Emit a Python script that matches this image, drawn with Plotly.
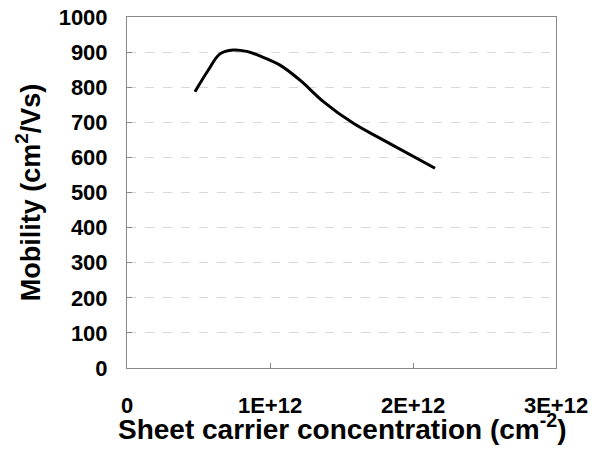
import plotly.graph_objects as go

conc = [0.475e12, 0.569e12, 0.65e12, 0.743e12, 0.837e12, 0.93e12, 1.07e12, 1.21e12,
        1.373e12, 1.583e12, 1.79e12, 2.154e12]
mobility = [787, 849, 895, 906, 902, 889, 863, 820, 759, 697, 650, 569]

x_tickvals = [0, 1e12, 2e12, 3e12]
x_ticktext = ["0", "1E+12", "2E+12", "3E+12"]
y_tickvals = list(range(0, 1001, 100))

fig = go.Figure()
fig.add_trace(go.Scatter(x=conc, y=mobility, mode="lines",
                         line=dict(color="black", width=3, shape="spline", smoothing=1.0),
                         showlegend=False, hoverinfo="skip"))

font = "Liberation Sans, Arial, sans-serif"
fig.update_layout(
    width=603, height=454,
    margin=dict(l=127, r=47, t=17, b=86),
    plot_bgcolor="white", paper_bgcolor="white",
    font=dict(family=font, color="black"),
    annotations=[dict(
        text="<b>Sheet carrier concentration (cm<sup>-2</sup>)</b>",
        xref="paper", yref="paper", x=0.5, y=0, xanchor="center", yanchor="middle",
        yshift=-59, showarrow=False, font=dict(size=28, family=font, color="black"),
    )],
)
fig.update_xaxes(
    range=[0, 3e12], tickvals=x_tickvals, ticktext=x_ticktext,
    ticks="inside", ticklen=5, tickcolor="#888",
    showline=True, linecolor="#888", linewidth=1, mirror=True,
    showgrid=False, zeroline=False, automargin=False,
    tickfont=dict(size=22, family=font, color="black", weight="bold"),
    ticklabelstandoff=18,
)
fig.update_yaxes(
    range=[0, 1000], tickvals=y_tickvals,
    ticks="inside", ticklen=5, tickcolor="#888",
    showline=True, linecolor="#888", linewidth=1, mirror=True,
    showgrid=True, gridcolor="#d8d8d8", griddash="dash", zeroline=False,
    automargin=False,
    tickfont=dict(size=22, family=font, color="black", weight="bold"),
    ticklabelstandoff=14,
    title=dict(text="<b>Mobility (cm<sup>2</sup>/Vs)</b>",
               font=dict(size=27, family=font), standoff=10),
)
fig.write_html("out.html", config={"displayModeBar": False},
               post_script="document.body.style.margin='0';document.body.style.overflow='hidden';")
